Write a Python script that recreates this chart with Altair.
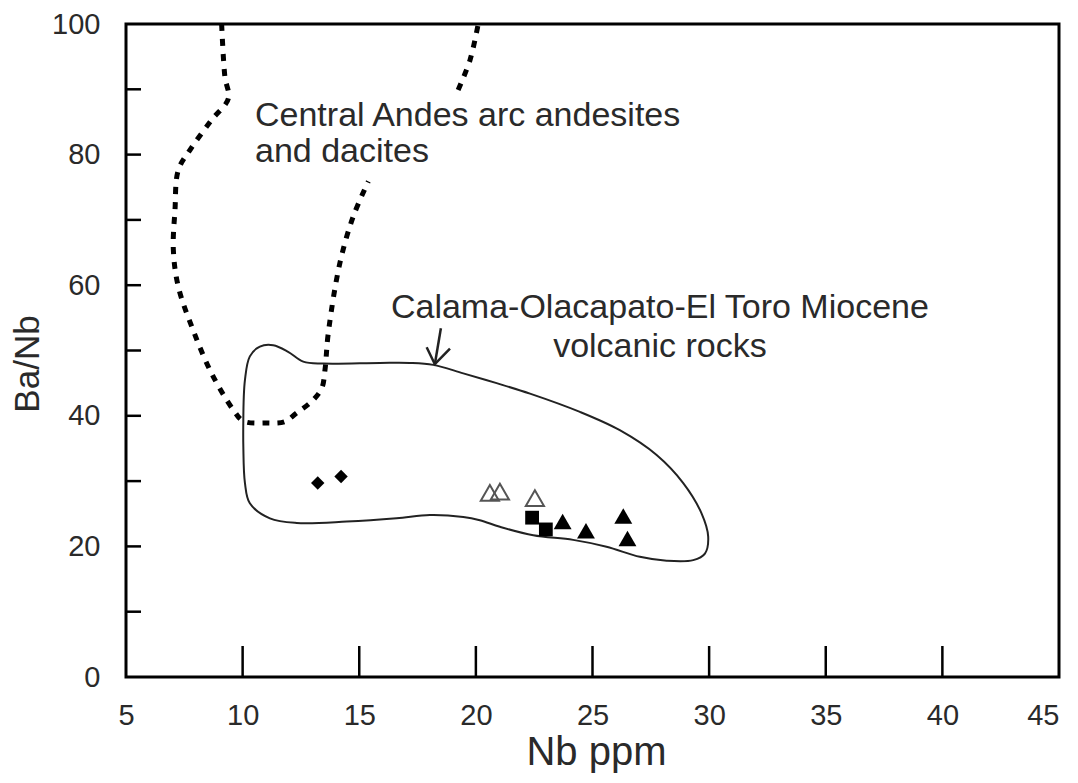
import altair as alt
import pandas as pd

# ---------------- data ----------------
# Central Andes arc andesites and dacites field (dashed), two pieces
andes_a_x = [9.1, 9.24, 9.39, 8.67, 7.74, 7.24, 7.10, 7.03, 7.24, 7.88, 8.67, 9.6, 10.03,
             11.0, 11.8, 12.3, 12.96, 13.39, 13.53, 13.67, 14.17, 14.74, 15.39]
andes_a_y = [100, 91.9, 88.6, 85.3, 80.7, 77.6, 71.5, 65.4, 59.8, 53.1, 46.5, 40.9, 39.2,
             38.9, 39.1, 40.4, 42.2, 44.2, 47.0, 52.6, 63.4, 70.5, 75.9]
andes_b_x = [19.24, 19.75, 20.1]
andes_b_y = [89.9, 94.5, 100]

# Calama-Olacapato-El Toro Miocene volcanic rocks field (solid, closed)
calama_x = [10.03, 10.1, 10.31, 10.74, 11.31, 11.95, 12.6, 13.46, 15.89, 17.17, 18.17, 19.46,
            20.89, 22.32, 24.46, 26.17, 27.75, 28.89, 29.67, 29.96, 29.82, 29.32, 28.18, 27.03,
            25.6, 24.17, 22.46, 21.03, 20.17, 19.46, 18.03, 16.6, 14.46, 12.32, 11.17, 10.31,
            10.1, 10.03, 10.03]
calama_y = [39.4, 45.5, 49.1, 50.6, 50.8, 49.8, 48.3, 48.0, 48.1, 48.1, 47.8, 46.5,
            45.0, 43.4, 40.6, 37.8, 34.0, 29.7, 25.1, 21.5, 18.9, 17.9, 17.8, 18.4,
            19.95, 21.0, 21.7, 23.0, 24.0, 24.5, 24.8, 24.3, 23.8, 23.6, 24.3, 26.6,
            29.7, 35.3, 39.4]

# samples
diamond_x = [13.22, 14.22]
diamond_y = [29.7, 30.7]
open_tri_x = [20.6, 21.03, 22.53]
open_tri_y = [28.2, 28.4, 27.4]
square_x = [22.41, 23.0]
square_y = [24.4, 22.6]
tri_x = [23.72, 24.72, 26.32, 26.5]
tri_y = [23.8, 22.4, 24.65, 21.2]

# arrow (shaft, then head: left wing -> tip -> right wing)
arrow_seg = ["shaft", "shaft", "head", "head", "head"]
arrow_x = [18.50, 18.24, 17.89, 18.24, 18.89]
arrow_y = [53.4, 47.9, 50.5, 47.9, 50.3]

# annotation texts
label_text = ["Central Andes arc andesites", "and dacites"]
label_x = [10.53, 10.53]
label_y = [84.4, 78.9]
label2_text = ["Calama-Olacapato-El Toro Miocene", "volcanic rocks"]
label2_x = [27.89, 27.89]
label2_y = [54.98, 49.0]

# axes
x_label_values = [5, 10, 15, 20, 25, 30, 35, 40, 45]
y_label_values = [0, 20, 40, 60, 80, 100]
x_tick_values = [10, 15, 20, 25, 30, 35, 40]
y_tick_values = [10, 20, 30, 40, 50, 60, 70, 80, 90]

# ---------------- chart ----------------
W, H = 933, 653
FONT = "Liberation Sans"
TXT = "#2a2a2a"
xs = alt.Scale(domain=[5, 45], nice=False, zero=False)
ys = alt.Scale(domain=[0, 100], nice=False, zero=False)

x_axis = alt.Axis(
    values=x_label_values, title="Nb ppm", grid=False, domain=False, ticks=False, tickSize=0,
    labelFont=FONT, labelFontSize=29, labelColor=TXT, labelPadding=24, labelFlush=False,
    labelOverlap=False,
    labelAlign={"condition": {"test": "datum.value == 45", "value": "right"}, "value": "center"},
    titleFont=FONT, titleFontSize=40, titleFontWeight="normal", titleColor=TXT,
    titleX=470, titleY=87, titleAlign="center", titleBaseline="alphabetic",
)
y_axis = alt.Axis(
    values=y_label_values, title="Ba/Nb", grid=False, domain=False, ticks=False, tickSize=0,
    labelFont=FONT, labelFontSize=29, labelColor=TXT, labelPadding=26, labelFlush=False,
    labelOverlap=False,
    titleFont=FONT, titleFontSize=35, titleFontWeight="normal", titleColor=TXT,
    titleX=-88, titleY=339.5, titleAngle=-90, titleAlign="center", titleBaseline="alphabetic",
)

def XE(f="x"):
    return alt.X(f"{f}:Q", scale=xs, axis=x_axis, title="Nb ppm")

def YE(f="y"):
    return alt.Y(f"{f}:Q", scale=ys, axis=y_axis, title="Ba/Nb")

andes_df = pd.DataFrame({
    "x": andes_a_x + andes_b_x,
    "y": andes_a_y + andes_b_y,
    "seg": ["a"] * len(andes_a_x) + ["b"] * len(andes_b_x),
    "i": list(range(len(andes_a_x))) + list(range(len(andes_b_x))),
})
calama_df = pd.DataFrame({"x": calama_x, "y": calama_y, "i": range(len(calama_x))})
arrow_df = pd.DataFrame({"x": arrow_x, "y": arrow_y, "seg": arrow_seg, "i": range(len(arrow_x))})

calama = alt.Chart(calama_df).mark_line(
    interpolate="catmull-rom", color="#222", strokeWidth=2
).encode(x=XE(), y=YE(), order="i:Q")

andes = alt.Chart(andes_df).mark_line(
    interpolate="catmull-rom", color="black", strokeWidth=5, strokeDash=[7, 8], clip=True
).encode(x=XE(), y=YE(), detail="seg:N", order="i:Q")

arrow = alt.Chart(arrow_df).mark_line(color="#222", strokeWidth=2.5).encode(
    x=XE(), y=YE(), detail="seg:N", order="i:Q"
)

def pts(xv, yv, **kw):
    return alt.Chart(pd.DataFrame({"x": xv, "y": yv})).mark_point(opacity=1, **kw).encode(
        x=XE(), y=YE()
    )

diamonds = pts(diamond_x, diamond_y, shape="diamond", filled=True, size=180, color="black")
open_tris = pts(open_tri_x, open_tri_y, shape="triangle-up", filled=False, size=330,
                color="#555", strokeWidth=2)
squares = pts(square_x, square_y, shape="square", filled=True, size=190, color="black")
tris = pts(tri_x, tri_y, shape="triangle-up", filled=True, size=320, color="black")

text1 = alt.Chart(pd.DataFrame({"x": label_x, "y": label_y, "t": label_text})).mark_text(
    align="left", baseline="alphabetic", font=FONT, fontSize=34, color=TXT
).encode(x=XE(), y=YE(), text="t:N")
text2 = alt.Chart(pd.DataFrame({"x": label2_x, "y": label2_y, "t": label2_text})).mark_text(
    align="center", baseline="alphabetic", font=FONT, fontSize=34, color=TXT
).encode(x=XE(), y=YE(), text="t:N")

xticks = alt.Chart(pd.DataFrame({"v": x_tick_values})).mark_rule(
    color="black", strokeWidth=2.5
).encode(x=XE("v"), y=alt.value(H), y2=alt.value(H - 31))
yticks = alt.Chart(pd.DataFrame({"v": y_tick_values})).mark_rule(
    color="black", strokeWidth=2.5
).encode(y=YE("v"), x=alt.value(0), x2=alt.value(15))

chart = alt.layer(
    calama, andes, arrow, xticks, yticks, diamonds, open_tris, squares, tris, text1, text2
).properties(
    width=W, height=H,
    autosize=alt.AutoSizeParams(type="none"),
    padding={"left": 118, "top": 16, "right": 10, "bottom": 96},
    background="white",
).configure_view(
    stroke="black", strokeWidth=3
)

chart.save("out.html", embed_options={"renderer": "svg", "actions": False})
